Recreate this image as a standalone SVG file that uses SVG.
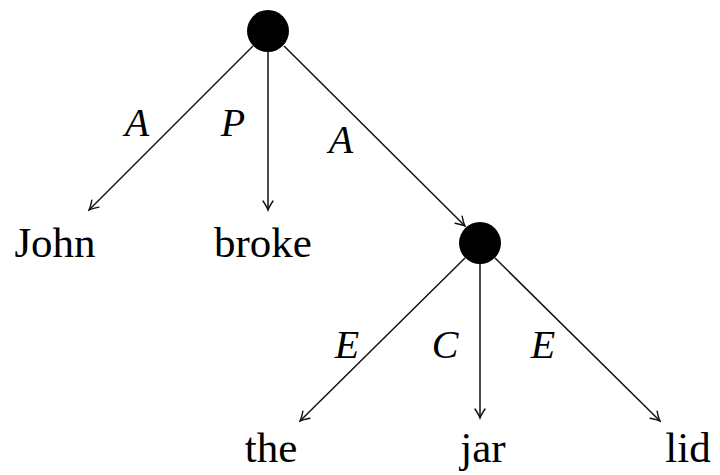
<svg xmlns="http://www.w3.org/2000/svg" width="720" height="475" viewBox="0 0 720 475">
<style>
.edge{stroke:#111;stroke-width:1.5;fill:none;marker-end:url(#arr)}
.node{fill:#000}
.word{font-family:'Liberation Serif','Times New Roman',serif;font-size:43px;fill:#000;text-anchor:middle}
.lab{font-family:'Liberation Serif','Times New Roman',serif;font-size:40px;font-style:italic;fill:#000;text-anchor:middle}
</style>
<defs>
<marker id="arr" viewBox="-10 -6 12 12" markerWidth="12" markerHeight="12" refX="0" refY="0" orient="auto" markerUnits="userSpaceOnUse">
<path d="M-9,-5 Q-3,-1 0,0 Q-3,1 -9,5" fill="none" stroke="#111" stroke-width="1.4" stroke-linecap="round"/>
</marker>
</defs>
<rect width="720" height="475" fill="#fff"/>
<g id="connectors">
<line class="edge" x1="253" y1="46" x2="89" y2="210"/>
<line class="edge" x1="268" y1="52" x2="268" y2="210"/>
<line class="edge" x1="284" y1="46" x2="465" y2="226"/>
<line class="edge" x1="465" y1="258" x2="300" y2="421"/>
<line class="edge" x1="480" y1="264" x2="480" y2="418"/>
<line class="edge" x1="495" y1="258" x2="660" y2="421"/>
</g>
<g id="labels">
<text class="lab" x="137" y="136">A</text>
<text class="lab" x="233" y="136">P</text>
<text class="lab" x="341" y="153">A</text>
<text class="lab" x="347" y="358">E</text>
<text class="lab" x="445" y="358">C</text>
<text class="lab" x="543" y="358">E</text>
</g>
<g id="root"><circle class="node" cx="268" cy="31" r="21"/></g>
<g id="mid"><circle class="node" cx="480" cy="243" r="21"/></g>
<g id="john"><text class="word" x="55" y="257">John</text></g>
<g id="broke"><text class="word" x="263" y="257">broke</text></g>
<g id="the"><text class="word" x="271" y="462">the</text></g>
<g id="jar"><text class="word" x="483" y="462">jar</text></g>
<g id="lid"><text class="word" x="688" y="462">lid</text></g>
</svg>
